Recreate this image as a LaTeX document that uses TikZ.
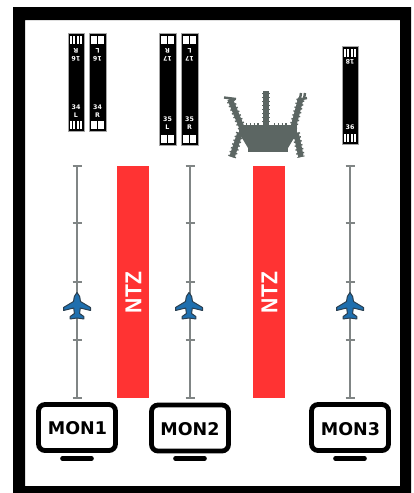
\documentclass[tikz,border=0pt]{standalone}
\usepackage{fontspec}
\setmainfont{DejaVu Sans}
\newfontfamily\ntzfont{Liberation Sans}
\definecolor{ntzred}{HTML}{FF3333}
\definecolor{planeblue}{HTML}{1F6FAE}
\definecolor{planeedge}{HTML}{2A3F50}
\definecolor{termgray}{HTML}{5C6663}
\definecolor{linegray}{HTML}{808585}
\tikzset{
  ntzbox/.style={fill=ntzred,draw=none},
  ntzlabel/.style={text=white,rotate=90,font=\ntzfont\bfseries\fontsize{23}{23}\selectfont,inner sep=0pt,xscale=.92},
  monbox/.style={draw=black,line width=4.8pt,rounded corners=6.5pt,fill=white},
  monstand/.style={draw=black,line width=4.6pt,line cap=round},
  monlabel/.style={font=\bfseries\fontsize{17.5}{17.5}\selectfont,inner sep=0pt},
  rwylabel/.style={text=white,font=\bfseries\fontsize{6.3}{6.3}\selectfont,inner sep=0pt},
  approach/.style={draw=linegray,line width=2pt},
  tickmark/.style={draw=linegray,line width=1.1pt},
  termline/.style={draw=termgray,line width=5.5pt},
  termspike/.style={draw=termgray,line width=8pt,dash pattern=on 1.4pt off 2.6pt},
  termcap/.style={draw=termgray,line width=2.4pt},
}
\def\topoff{18}
\def\botoff{24}
% #1 left, #2 top, #3 right, #4 bottom, #5 #6 top labels, #7 #8 bottom labels
\newcommand{\runway}[8]{
  \fill[black] (#1,#2) rectangle (#3,#4);
  \draw[gray!70,line width=.5pt] (#1,#2) rectangle (#3,#4);
  \pgfmathsetmacro{\rw}{(#3-#1)}
  \foreach \f in {0.13,0.32,0.54,0.73}{
    \fill[white] ({#1+\f*\rw},#2+2.5) rectangle ({#1+(\f+0.14)*\rw},#2+10.5);
    \fill[white] ({#1+\f*\rw},#4-10.5) rectangle ({#1+(\f+0.14)*\rw},#4-2.5);
  }
  \pgfmathsetmacro{\cx}{(#1+#3)/2}
  \node[rwylabel,rotate=180] at (\cx,#2+\topoff) {#5};
  \node[rwylabel,rotate=180] at (\cx,#2+\topoff+8) {#6};
  \node[rwylabel] at (\cx,#4-\botoff) {#7};
  \node[rwylabel] at (\cx,#4-\botoff+8.5) {#8};
}
% #1 x, approach line
\newcommand{\approachline}[1]{
  \draw[approach] (#1,166) -- (#1,398);
  \foreach \y in {166,223,282,340,398}
    \draw[tickmark] (#1-4.5,\y) -- (#1+4.5,\y);
}
\newcommand{\plane}[2]{
  \begin{scope}[shift={(#1,#2)}]
    \filldraw[fill=planeblue,draw=planeedge,line width=1pt,line join=round]
      (0,-13.5) .. controls (2.4,-11.5) and (3.5,-8) .. (3.5,-4.5)
      -- (13.5,1.5) -- (13.5,4.5) -- (3.3,2) -- (2.6,7.5)
      -- (6.8,10.5) -- (6.8,13) -- (0,12) -- (-6.8,13) -- (-6.8,10.5)
      -- (-2.6,7.5) -- (-3.3,2) -- (-13.5,4.5) -- (-13.5,1.5) -- (-3.5,-4.5)
      .. controls (-3.5,-8) and (-2.4,-11.5) .. (0,-13.5) -- cycle;
  \end{scope}
}
\begin{document}
\begin{tikzpicture}[x=1pt,y=-1pt]
\useasboundingbox (0,0) rectangle (414,493);
\fill[white] (0,0) rectangle (414,493);
% frame
\fill[black,even odd rule] (13,7) rectangle (411,493) (25,20) rectangle (400,486);
% runways
\runway{68}{33}{84}{131}{R}{16}{34}{L}
\runway{89}{33}{106}{131}{L}{16}{34}{R}
\def\botoff{26}
\runway{159}{33}{176}{145}{R}{17}{35}{L}
\runway{181}{33}{198}{145}{L}{17}{35}{R}
\def\topoff{16}
\def\botoff{17}
\runway{342}{46}{358}{144}{18}{}{36}{}
% terminal
\fill[termgray] (248,125) rectangle (288,152);
\fill[termgray] (239,125) rectangle (297,135);
\fill[termgray] (239,133) -- (248,133) -- (248,148) -- cycle;
\fill[termgray] (297,133) -- (288,133) -- (288,148) -- cycle;
\foreach \a/\b/\c/\d in {242/128/230/99, 266/126/266/91, 293/128/301/98, 240/133/232/157, 296/133/301/157}{
  \draw[termline] (\a,\b) -- (\c,\d);
  \draw[termspike] (\a,\b) -- (\c,\d);
}
\draw[termcap] (224,97.5) -- (236,99);
\draw[termcap] (297,100) -- (307,98);
\draw[termcap] (300,99) -- (301,93);
\draw[termcap] (304,99) -- (305,93);
\draw[termgray,line width=3pt,dash pattern=on 1.4pt off 2.4pt] (246,124) -- (260,124);
\draw[termgray,line width=3pt,dash pattern=on 1.4pt off 2.4pt] (274,124) -- (288,124);
% NTZ
\fill[ntzbox] (117,166) rectangle (149,398);
\fill[ntzbox] (253,166) rectangle (285,398);
\node[ntzlabel] (ntzA) at (133.5,292.5) {NTZ};
\node[ntzlabel] (ntzB) at (269.5,292.5) {NTZ};
% approaches
\approachline{77}
\approachline{190}
\approachline{350}
\plane{77}{306}
\plane{189}{306}
\plane{350}{306}
% monitors
\draw[monbox] (38.5,404.5) rectangle (115.5,450.5);
\draw[monbox] (151.5,405) rectangle (228.5,451);
\draw[monbox] (311.5,404.5) rectangle (388.5,450.5);
\node[monlabel] (mon1) at (77.5,428) {MON1};
\node[monlabel] (mon2) at (190,429.5) {MON2};
\node[monlabel] (mon3) at (350.5,429) {MON3};
\draw[monstand] (62.5,458.5) -- (91.5,458.5);
\draw[monstand] (175.5,458.5) -- (204.5,458.5);
\draw[monstand] (335.5,458.5) -- (364.5,458.5);
\end{tikzpicture}
\end{document}
